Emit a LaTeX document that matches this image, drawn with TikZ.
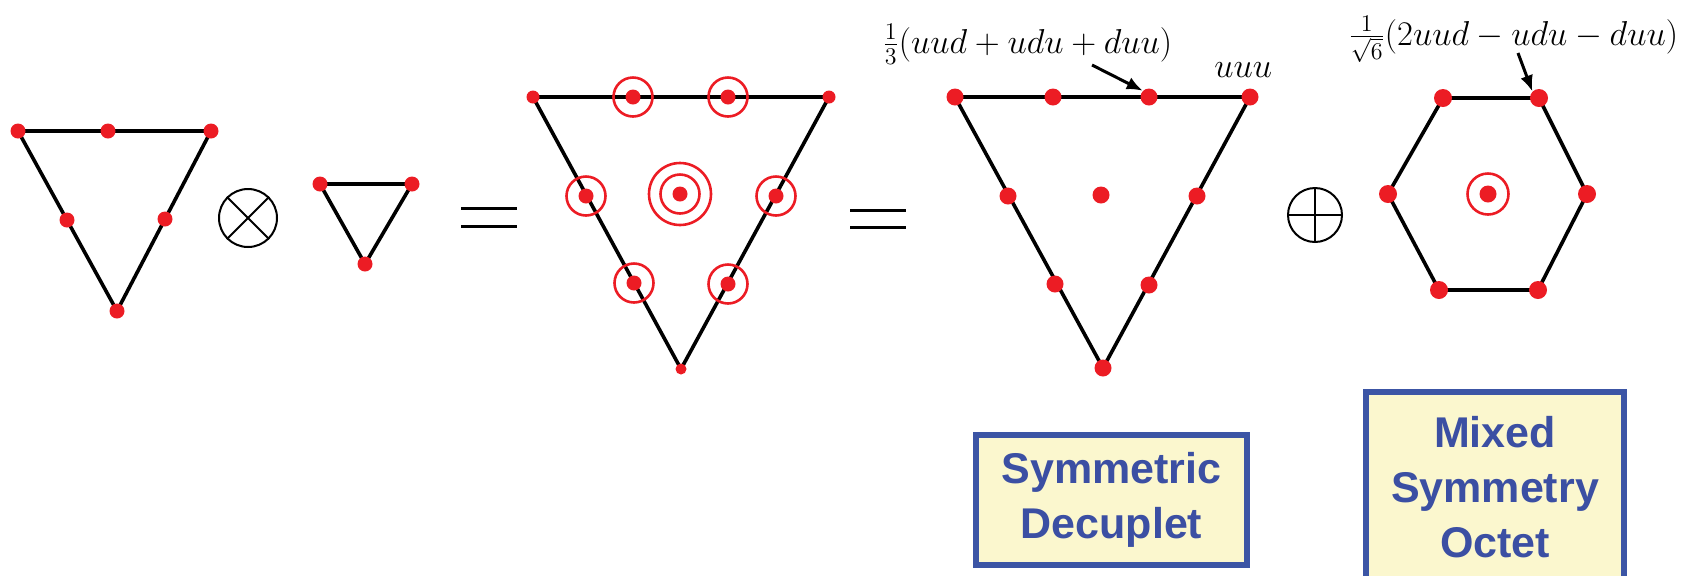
\documentclass[tikz,border=0pt]{standalone}
\usepackage{fontspec}
\newfontfamily\boxfont{Liberation Sans}
\usetikzlibrary{arrows.meta}
\definecolor{qred}{HTML}{EC1C24}
\definecolor{qblue}{HTML}{3C55A5}
\definecolor{qtext}{HTML}{3B4FA3}
\definecolor{qfill}{HTML}{FBF7CE}
\tikzset{
  edge/.style={line width=1.8pt, black, line join=round},
  dotA/.style={circle, fill=qred, inner sep=0pt, minimum size=7.5pt},
  dotB/.style={circle, fill=qred, inner sep=0pt, minimum size=8.5pt},
  dotS/.style={circle, fill=qred, inner sep=0pt, minimum size=6.5pt},
  ring/.style={circle, draw=qred, line width=1.3pt, inner sep=0pt, minimum size=19.5pt},
  ringbig/.style={circle, draw=qred, line width=1.3pt, inner sep=0pt, minimum size=31pt},
  opsym/.style={circle, draw=black, line width=1pt, inner sep=0pt},
  eqline/.style={line width=1.5pt, black},
  ptr/.style={line width=1.5pt, -{Latex[length=8pt,width=6.5pt]}},
  labelbox/.style={draw=qblue, line width=3pt, fill=qfill, inner sep=0pt,
    align=center, text=qtext, font=\boxfont\bfseries\fontsize{21.5}{27.5}\selectfont},
  mathlbl/.style={inner sep=0pt, font=\fontsize{17}{20}\selectfont}
}
\begin{document}
\begin{tikzpicture}[x=0.5pt,y=-0.5pt]
\useasboundingbox (0,0) rectangle (1694,575);

% ---------- triangle 1 (3) ----------
\coordinate (A1) at (18,131);
\coordinate (A2) at (211,131);
\coordinate (A3) at (117,311);
\draw[edge] (A1) -- (A2) -- (A3) -- cycle;
\node[dotA] (a1) at (A1) {};
\node[dotA] (a2) at (A2) {};
\node[dotA] (a3) at (A3) {};
\node[dotA] (a12) at (108,131) {};
\node[dotA] (a13) at (67,220) {};
\node[dotA] (a23) at (165,219) {};

% otimes
\node[opsym, minimum size=29pt] (otimes) at (248,218) {};
\draw[line width=1pt] (otimes.north east) -- (otimes.south west);
\draw[line width=1pt] (otimes.north west) -- (otimes.south east);

% ---------- small triangle ----------
\coordinate (B1) at (320,184);
\coordinate (B2) at (412,184);
\coordinate (B3) at (365,264);
\draw[edge] (B1) -- (B2) -- (B3) -- cycle;
\node[dotA] (b1) at (B1) {};
\node[dotA] (b2) at (B2) {};
\node[dotA] (b3) at (B3) {};

% equals 1
\draw[eqline] (461,208) -- (517,208);
\draw[eqline] (461,226) -- (517,226);

% ---------- big triangle (27 -> 3x3x3) ----------
\coordinate (C1) at (533,97);
\coordinate (C2) at (829,97);
\coordinate (C3) at (681,369);
\draw[edge] (C1) -- (C2) -- (C3) -- cycle;
\node[dotS] (c1) at (C1) {};
\node[dotS] (c2) at (C2) {};
\node[dotS, minimum size=5.5pt] (c3) at (C3) {};
\foreach \n/\p in {t1/{(633,97)}, t2/{(728,97)}, l1/{(586,196)}, r1/{(776,196)}, l2/{(634,283)}, r2/{(728,284)}}{
  \node[dotA] (c\n) at \p {};
  \node[ring] (rc\n) at \p {};
}
\node[dotA] (cc) at (680,194) {};
\node[ring] (rcc1) at (680,194) {};
\node[ringbig] (rcc2) at (680,194) {};

% equals 2
\draw[eqline] (850,210) -- (906,210);
\draw[eqline] (850,227) -- (906,227);

% ---------- decuplet ----------
\coordinate (D1) at (955,97);
\coordinate (D2) at (1250,97);
\coordinate (D3) at (1103,368);
\draw[edge] (D1) -- (D2) -- (D3) -- cycle;
\node[dotB] (d1) at (D1) {};
\node[dotB] (d2) at (D2) {};
\node[dotB] (d3) at (D3) {};
\node[dotB] (dt1) at (1053,97) {};
\node[dotB] (dt2) at (1149,97) {};
\node[dotB] (dl1) at (1008,196) {};
\node[dotB] (dr1) at (1197,196) {};
\node[dotB] (dl2) at (1055,284) {};
\node[dotB] (dr2) at (1149,285) {};
\node[dotB] (dc) at (1101,195) {};

\node[mathlbl, anchor=base west] (dlabel) at (882,53)
  {$\frac{1}{3}(uud+udu+duu)$};
\node[mathlbl, anchor=base west] (uuu) at (1214,77) {$uuu$};
\coordinate (p1) at (1092,65);
\draw[ptr] (p1) -- (dt2.north west);

% oplus
\node[opsym, minimum size=27pt] (oplus) at (1315,215) {};
\draw[line width=1pt] (oplus.north) -- (oplus.south);
\draw[line width=1pt] (oplus.west) -- (oplus.east);

% ---------- octet ----------
\coordinate (H1) at (1443,98);
\coordinate (H2) at (1539,98);
\coordinate (H3) at (1587,194);
\coordinate (H4) at (1538,290);
\coordinate (H5) at (1439,290);
\coordinate (H6) at (1388,194);
\draw[edge] (H1) -- (H2) -- (H3) -- (H4) -- (H5) -- (H6) -- cycle;
\foreach \k in {1,...,6}{ \node[dotB, minimum size=9pt] (h\k) at (H\k) {}; }
\node[dotB] (hc) at (1488,194) {};
\node[ring, minimum size=20.5pt] (rhc) at (1488,194) {};

\node[mathlbl, anchor=base west] (olabel) at (1348,45)
  {$\frac{1}{\sqrt{6}}(2uud-udu-duu)$};
\coordinate (p2) at (1518,53);
\draw[ptr] (p2) -- (h2.north west);

% ---------- label boxes ----------
\node[labelbox, minimum width=135.5pt, minimum height=65pt] (decbox) at (1111.5,500)
  {Symmetric\\Decuplet};
\node[labelbox, minimum width=129pt, minimum height=95pt] (octbox) at (1495,487)
  {Mixed\\Symmetry\\Octet};
\end{tikzpicture}
\end{document}
